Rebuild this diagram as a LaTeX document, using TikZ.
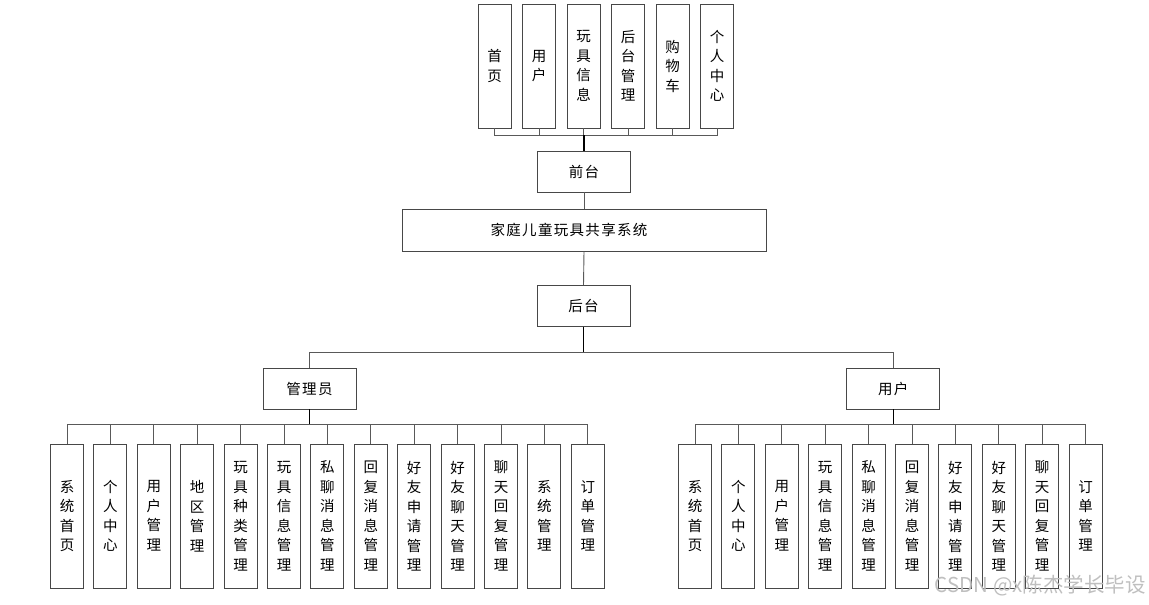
\documentclass[tikz,border=0pt]{standalone}
\usepackage{fontspec}
\newfontfamily\cjk{Noto Sans CJK SC}
\newfontfamily\cjkh[LetterSpace=9]{Noto Sans CJK SC}
\begin{document}
\begin{tikzpicture}[x=1pt,y=-1pt,
	kuang/.style={draw=black!72,line width=0.9pt,fill=white,inner sep=0pt,align=center,font=\cjk\fontsize{14.5}{19.5}\selectfont},
	shu/.style={kuang,minimum width=33pt},
	heng/.style={kuang,minimum width=93pt,minimum height=41pt,font=\cjkh\fontsize{14.5}{19.5}\selectfont},
	lian/.style={draw=black!65,line width=0.9pt},
	zhu/.style={draw=black,line width=1.6pt}]
	\useasboundingbox (0,0) rectangle (1149,605);
	% top level
	\node[heng] (qian) at (584,171.5) {前台};
	\node[heng,minimum width=364pt,minimum height=42pt] (xt) at (584,230) {家庭儿童玩具共享系统\hspace*{30pt}};
	\node[heng] (hou) at (583.5,306) {后台};
	\node[heng] (gly) at (309.5,388.5) {管理员};
	\node[heng] (yh) at (893.3,388.5) {用户};
	% front pages
	\foreach \t [count=\i from 0] in {{首\\页},{用\\户},{玩\\具\\信\\息},{后\\台\\管\\理},{购\\物\\车},{个\\人\\中\\心}}
		\node[shu,minimum height=124pt] (qt\i) at (494.5+44.5*\i,66) {\t};
	% admin modules
	\foreach \t [count=\i from 0] in {{系\\统\\首\\页},{个\\人\\中\\心},{用\\户\\管\\理},{地\\区\\管\\理},{玩\\具\\种\\类\\管\\理},{玩\\具\\信\\息\\管\\理},{私\\聊\\消\\息\\管\\理},{回\\复\\消\\息\\管\\理},{好\\友\\申\\请\\管\\理},{好\\友\\聊\\天\\管\\理},{聊\\天\\回\\复\\管\\理},{系\\统\\管\\理},{订\\单\\管\\理}}
		\node[shu,minimum height=144pt] (g\i) at (67+43.4*\i,516) {\t};
	% user modules
	\foreach \t [count=\i from 0] in {{系\\统\\首\\页},{个\\人\\中\\心},{用\\户\\管\\理},{玩\\具\\信\\息\\管\\理},{私\\聊\\消\\息\\管\\理},{回\\复\\消\\息\\管\\理},{好\\友\\申\\请\\管\\理},{好\\友\\聊\\天\\管\\理},{聊\\天\\回\\复\\管\\理},{订\\单\\管\\理}}
		\node[shu,minimum height=144pt] (u\i) at (695+43.4*\i,516) {\t};
	% buses
	\coordinate (busq) at (584,135);
	\coordinate (bush) at (583.5,352.7);
	\coordinate (busg) at (309.5,424);
	\coordinate (busu) at (893.3,424);
	\foreach \i in {0,...,5} \draw[lian] (qt\i.south) |- (busq);
	\draw[zhu] (busq) -- (qian.north);
	\draw[lian] (qian.south) -- (xt.north);
	\draw[lian] (xt.south) -- (hou.north);
	\draw[zhu] (hou.south) -- (bush);
	\draw[lian] (bush) -| (gly.north);
	\draw[lian] (bush) -| (yh.north);
	\foreach \i in {0,...,12} \draw[lian] (g\i.north) |- (busg);
	\draw[zhu] (busg) -- (gly.south);
	\foreach \i in {0,...,9} \draw[lian] (u\i.north) |- (busu);
	\draw[zhu] (busu) -- (yh.south);
	% watermark
	\node[anchor=east,text=black!25,font=\cjk\fontsize{20.5}{24}\selectfont,inner sep=0pt] (sy) at (1146,586) {CSDN @x陈杰学长毕设};
\end{tikzpicture}
\end{document}
